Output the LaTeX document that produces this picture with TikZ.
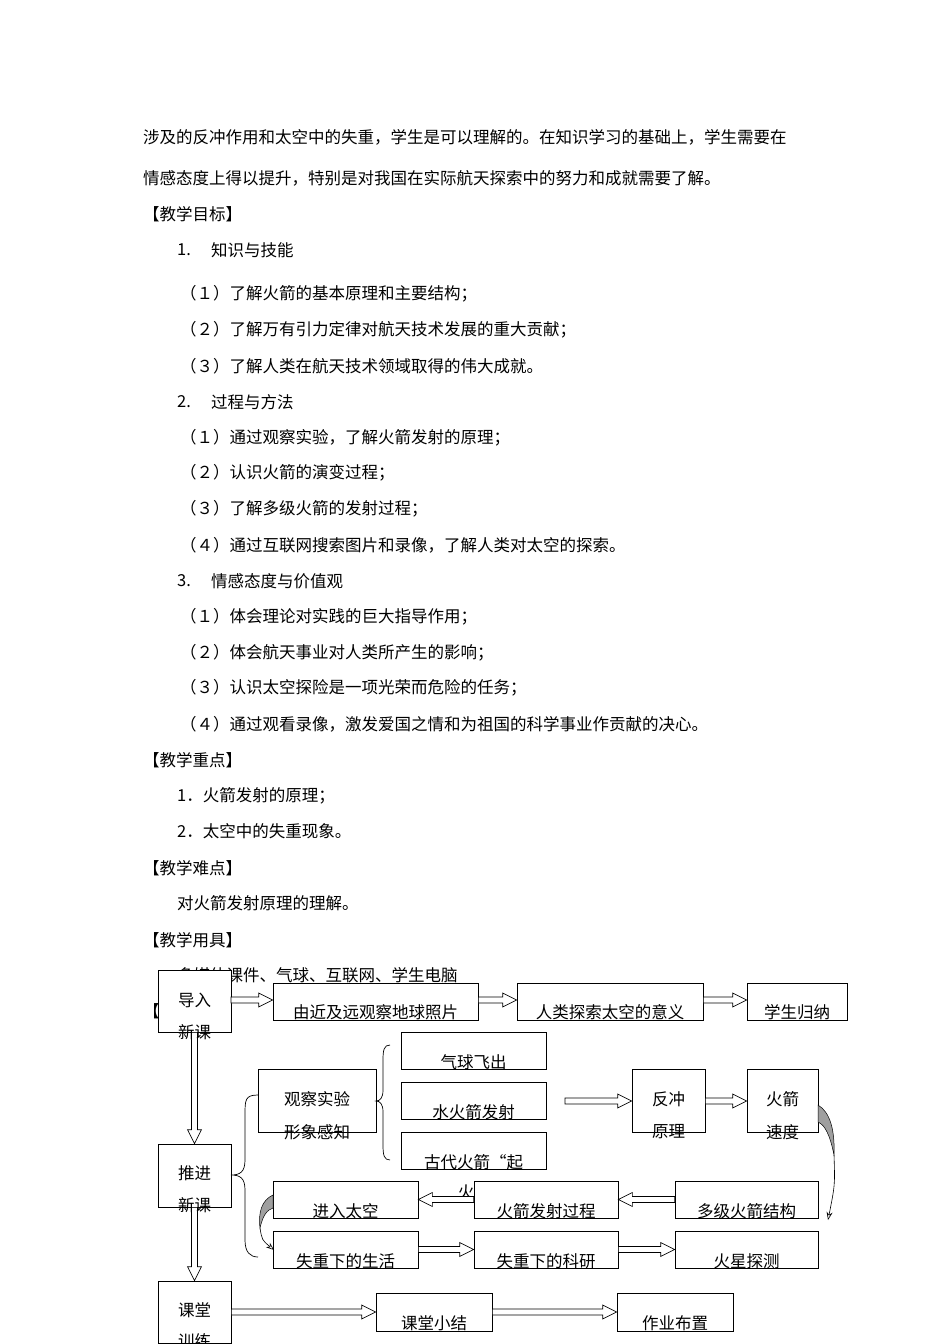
\documentclass[tikz,border=0pt]{standalone}
\usepackage{fontspec}
\setmainfont{Noto Sans CJK SC}
\usetikzlibrary{calc,arrows.meta}
\newcommand\harr[2]{\path[draw,fill=white,line width=0.7pt] let \p1=(#1), \p2=(#2), \p3=($(#2)!14pt!(#1)$) in (\x1,\y1+3pt)--(\x3,\y1+3pt)--(\x3,\y1+7pt)--(\x2,\y1)--(\x3,\y1-7pt)--(\x3,\y1-3pt)--(\x1,\y1-3pt)--cycle;}
\newcommand\varr[2]{\path[draw,fill=white,line width=0.7pt] let \p1=(#1), \p2=(#2), \p3=($(#2)!14pt!(#1)$) in (\x1+3pt,\y1)--(\x1+3pt,\y3)--(\x1+7pt,\y3)--(\x1,\y2)--(\x1-7pt,\y3)--(\x1-3pt,\y3)--(\x1-3pt,\y1)--cycle;}
\begin{document}
\begin{tikzpicture}[x=1pt,y=-1pt,
  txt/.style={anchor=west,inner sep=0,font=\fontsize{16.5pt}{17pt}\selectfont},
  bt/.style={inner sep=0,font=\fontsize{16.5pt}{17pt}\selectfont},
  box/.style={draw,fill=white,inner sep=0,line width=0.7pt}]
\useasboundingbox[fill=white] (0,0) rectangle (950,1344);
% body text
\node[txt] (t1) at (143,137) {涉及的反冲作用和太空中的失重，学生是可以理解的。在知识学习的基础上，学生需要在};
\node[txt] (t2) at (143,178) {情感态度上得以提升，特别是对我国在实际航天探索中的努力和成就需要了解。};
\node[txt] (t3) at (143,214) {【教学目标】};
\node[txt] (t4a) at (177,250) {1.};
\node[txt] (t4) at (211,250) {知识与技能};
\node[txt] (t5) at (180,294) {（１）了解火箭的基本原理和主要结构；};
\node[txt] (t6) at (180,330) {（２）了解万有引力定律对航天技术发展的重大贡献；};
\node[txt] (t7) at (180,366) {（３）了解人类在航天技术领域取得的伟大成就。};
\node[txt] (t8a) at (177,402) {2.};
\node[txt] (t8) at (211,402) {过程与方法};
\node[txt] (t9) at (180,438) {（１）通过观察实验，了解火箭发射的原理；};
\node[txt] (t10) at (180,473) {（２）认识火箭的演变过程；};
\node[txt] (t11) at (180,509) {（３）了解多级火箭的发射过程；};
\node[txt] (t12) at (180,545) {（４）通过互联网搜索图片和录像，了解人类对太空的探索。};
\node[txt] (t13a) at (177,581) {3.};
\node[txt] (t13) at (211,581) {情感态度与价值观};
\node[txt] (t14) at (180,617) {（１）体会理论对实践的巨大指导作用；};
\node[txt] (t15) at (180,653) {（２）体会航天事业对人类所产生的影响；};
\node[txt] (t16) at (180,688) {（３）认识太空探险是一项光荣而危险的任务；};
\node[txt] (t17) at (180,724) {（４）通过观看录像，激发爱国之情和为祖国的科学事业作贡献的决心。};
\node[txt] (t18) at (143,760) {【教学重点】};
\node[txt] (t19) at (177,796) {1．火箭发射的原理；};
\node[txt] (t20) at (177,831) {2．太空中的失重现象。};
\node[txt] (t21) at (143,868) {【教学难点】};
\node[txt] (t22) at (177,903) {对火箭发射原理的理解。};
\node[txt] (t23) at (143,940) {【教学用具】};
\node[txt] (t24) at (177,975) {多媒体课件、气球、互联网、学生电脑};
\node[txt] (t25) at (143,1011) {【流程图】};
\node[bt] (stray) at (466,1192) {火};
% boxes
\node[box,minimum width=73pt,minimum height=62pt] (dr) at (194.5,1001) {};
\node[box,minimum width=205pt,minimum height=37pt] (yj) at (375.5,1001.5) {};
\node[box,minimum width=186pt,minimum height=37pt] (rl) at (610,1001.5) {};
\node[box,minimum width=100pt,minimum height=37pt] (xs) at (797,1001.5) {};
\node[box,minimum width=145pt,minimum height=37pt] (qq) at (473.5,1050.5) {};
\node[box,minimum width=145pt,minimum height=37pt] (shj) at (473.5,1100.5) {};
\node[box,minimum width=145pt,minimum height=37pt] (gd) at (473.5,1150.5) {};
\node[box,minimum width=118pt,minimum height=63pt] (gc) at (317,1100.5) {};
\node[box,minimum width=73pt,minimum height=63pt] (fc) at (668.5,1100.5) {};
\node[box,minimum width=71pt,minimum height=63pt] (hj) at (782.5,1100.5) {};
\node[box,minimum width=73pt,minimum height=63pt] (tj) at (194.5,1175.5) {};
\node[box,minimum width=145pt,minimum height=37pt] (jr) at (345.5,1199.5) {};
\node[box,minimum width=144pt,minimum height=37pt] (fs) at (546,1199.5) {};
\node[box,minimum width=143pt,minimum height=37pt] (dj) at (746.5,1199.5) {};
\node[box,minimum width=145pt,minimum height=37pt] (sh) at (345.5,1249.5) {};
\node[box,minimum width=144pt,minimum height=37pt] (ky) at (546,1249.5) {};
\node[box,minimum width=143pt,minimum height=37pt] (hx) at (746.5,1249.5) {};
\node[box,minimum width=73pt,minimum height=62pt] (kt) at (194.5,1312) {};
\node[box,minimum width=116pt,minimum height=38pt] (xj) at (434,1312) {};
\node[box,minimum width=116pt,minimum height=38pt] (zy) at (675,1312) {};
% arrows
\coordinate (a1) at (231,1000);
\coordinate (sA) at (565,1101);
\harr{a1}{yj.west |- a1}
\harr{yj.east |- a1}{rl.west |- a1}
\harr{rl.east |- a1}{xs.west |- a1}
\harr{sA}{fc.west |- sA}
\harr{fc.east |- sA}{hj.west |- sA}
\harr{dj.west}{fs.east}
\harr{fs.west}{jr.east}
\harr{sh.east}{ky.west}
\harr{ky.east}{hx.west}
\harr{kt.east |- xj.west}{xj.west}
\harr{xj.east}{zy.west}
\varr{dr.south}{tj.north}
\varr{tj.south}{kt.north}
% braces
\draw[line width=0.7pt] (258,1095) .. controls (245,1095) and (245,1100) .. (245,1115) -- (245,1160) .. controls (245,1172) and (240,1175) .. (231,1175) .. controls (240,1175) and (245,1178) .. (245,1190) -- (245,1240) .. controls (245,1252) and (250,1257) .. (258,1257);
\draw[line width=0.7pt] (390,1045) .. controls (384,1045) and (383,1050) .. (383,1060) -- (383,1090) .. controls (383,1098) and (380,1101) .. (376,1101) .. controls (380,1101) and (383,1104) .. (383,1112) -- (383,1145) .. controls (383,1155) and (384,1160) .. (390,1160);
% curved arrows
\fill[gray!75,draw=black,line width=0.5pt] (818,1105) .. controls (830,1112) and (835,1130) .. (834,1155) .. controls (830,1135) and (825,1125) .. (818,1122) -- cycle;
\draw[line width=0.6pt,-{Stealth[open,length=8pt,width=6pt]}] (834,1155) .. controls (835,1185) .. (828,1220);
\fill[gray!75,draw=black,line width=0.5pt] (273,1195) .. controls (262,1200) and (258,1212) .. (260,1228) .. controls (263,1215) and (267,1210) .. (273,1208) -- cycle;
\draw[line width=0.6pt,-{Stealth[open,length=8pt,width=6pt]}] (260,1228) .. controls (262,1240) .. (274,1250);
% box texts
\node[bt] at (194.5,1000) {导入};
\node[bt] at (194.5,1032) {新课};
\node[bt] at (375.5,1012) {由近及远观察地球照片};
\node[bt] at (610,1012) {人类探索太空的意义};
\node[bt] at (797,1012) {学生归纳};
\node[bt] at (473.5,1062) {气球飞出};
\node[bt] at (473.5,1112) {水火箭发射};
\node[bt] at (473.5,1162) {古代火箭“起};
\node[bt] at (317,1099) {观察实验};
\node[bt] at (317,1132) {形象感知};
\node[bt] at (668.5,1099) {反冲};
\node[bt] at (668.5,1132) {原理};
\node[bt] at (782.5,1099) {火箭};
\node[bt] at (782.5,1132) {速度};
\node[bt] at (194.5,1173) {推进};
\node[bt] at (194.5,1205) {新课};
\node[bt] at (345.5,1211) {进入太空};
\node[bt] at (546,1211) {火箭发射过程};
\node[bt] at (746.5,1211) {多级火箭结构};
\node[bt] at (345.5,1261) {失重下的生活};
\node[bt] at (546,1261) {失重下的科研};
\node[bt] at (746.5,1261) {火星探测};
\node[bt] at (194.5,1310) {课堂};
\node[bt] at (194.5,1341) {训练};
\node[bt] at (434,1323) {课堂小结};
\node[bt] at (675,1323) {作业布置};
\end{tikzpicture}
\end{document}
